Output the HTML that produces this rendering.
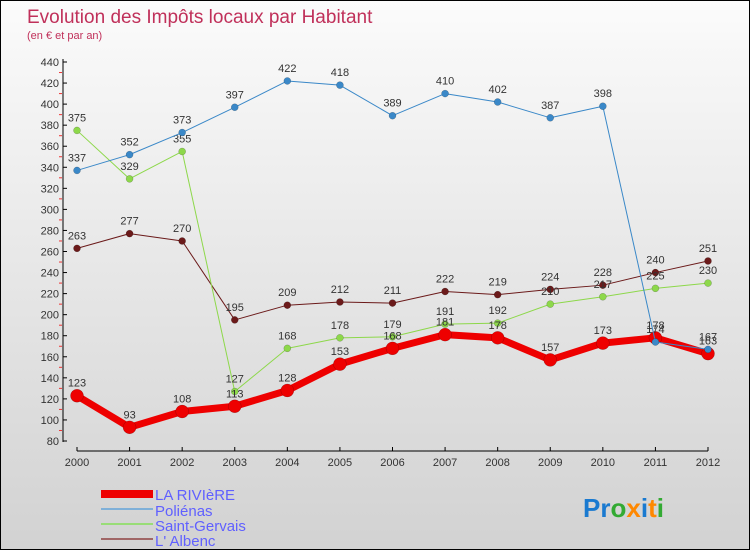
<!DOCTYPE html>
<html><head><meta charset="utf-8"><style>
body{margin:0}
#wrap{width:748px;height:548px;border:1px solid #000;background:linear-gradient(#fbfbfb,#d2d2d2);position:relative;font-family:"Liberation Sans",sans-serif}
</style></head><body>
<div id="wrap">
<svg id="chart" width="748" height="548" style="position:absolute;left:0;top:0">
<text x="26" y="22" font-size="19" fill="#c0305a">Evolution des Impôts locaux par Habitant</text>
<text x="26" y="38" font-size="11" fill="#c0305a">(en € et par an)</text>
<g id="axes"></g><g id="series"></g>
<g font-size="15" fill="#6060ff">
<rect x="100" y="489" width="52" height="8" fill="#e00"/>
<text x="154" y="499">LA RIVIèRE</text>
<rect x="100" y="507" width="52" height="2" fill="#7fb0d8"/>
<text x="154" y="515">Poliénas</text>
<rect x="100" y="522" width="52" height="2" fill="#99dd77"/>
<text x="154" y="530">Saint-Gervais</text>
<rect x="100" y="537" width="52" height="2" fill="#a06666"/>
<text x="154" y="545">L' Albenc</text>
</g>
<text x="582" y="516" font-size="26" font-weight="bold"><tspan fill="#1a7ad0">Pr</tspan><tspan fill="#3a3">o</tspan><tspan fill="#f80">x</tspan><tspan fill="#1a7ad0">i</tspan><tspan fill="#f80">t</tspan><tspan fill="#3a3">i</tspan></text>
</svg>
</div>
<script>
const years=[2000,2001,2002,2003,2004,2005,2006,2007,2008,2009,2010,2011,2012];
const yTicks=[80,100,120,140,160,180,200,220,240,260,280,300,320,340,360,380,400,420,440];
const laRiviere=[123,93,108,113,128,153,168,181,178,157,173,178,163];
const poliengs=[337,352,373,397,422,418,389,410,402,387,398,174,167];
const saintGervais=[375,329,355,127,168,178,179,191,192,210,217,225,230];
const albenc=[263,277,270,195,209,212,211,222,219,224,228,240,251];
const NS="http://www.w3.org/2000/svg";
const X=i=>76+i*(707-76)/(years.length-1);
const Y=v=>440-(v-80)*(440-61)/360;
function mk(t,a,p){const e=document.createElementNS(NS,t);for(const k in a)e.setAttribute(k,a[k]);p.appendChild(e);return e;}
const ax=document.getElementById('axes');
let e=mk('line',{x1:62,y1:58,x2:62,y2:441,stroke:'#000','stroke-width':1},ax);


e=mk('line',{x1:76,y1:450,x2:707,y2:450,stroke:'#000','stroke-width':1},ax);


yTicks.forEach((v,i)=>{
 mk('line',{x1:62,y1:Y(v),x2:66,y2:Y(v),stroke:'#000'},ax);
 if(i<yTicks.length-1)mk('line',{x1:58,y1:Y(v+10),x2:61,y2:Y(v+10),stroke:'#e33'},ax);
 const t=mk('text',{x:58,y:Y(v)+4,'font-size':11,'text-anchor':'end',fill:'#333'},ax);t.textContent=v;
 
 
});
years.forEach((yr,i)=>{
 mk('line',{x1:X(i),y1:446,x2:X(i),y2:450,stroke:'#000'},ax);
 const t=mk('text',{x:X(i),y:465,'font-size':11,'text-anchor':'middle',fill:'#333'},ax);t.textContent=yr;
 
 
});
const sg=document.getElementById('series');
function series(d,col,w,r,name){
 const g=mk('g',{},sg);
 
 
 const l=mk('polyline',{points:d.map((v,i)=>X(i)+','+Y(v)).join(' '),fill:'none',stroke:col,'stroke-width':w,'stroke-linejoin':'round'},g);
 
 
 d.forEach((v,i)=>{
  const c=mk('circle',{cx:X(i),cy:Y(v),r:r,fill:col,stroke:'rgba(0,0,0,0.3)','stroke-width':0.5},g);
  
  
  const t=mk('text',{x:X(i),y:Y(v)-9,'font-size':11,'text-anchor':'middle',fill:'#333'},g);t.textContent=v;
  
  
 });
}
series(albenc,'#6b1a1a',1,3.5,'albenc');
series(saintGervais,'#8dd84a',1,3.5,'saint-gervais');
series(laRiviere,'#ee0000',7,6.5,'la-riviere');
series(poliengs,'#3a88c8',1,3.5,'poliengs');
</script>
</body></html>
